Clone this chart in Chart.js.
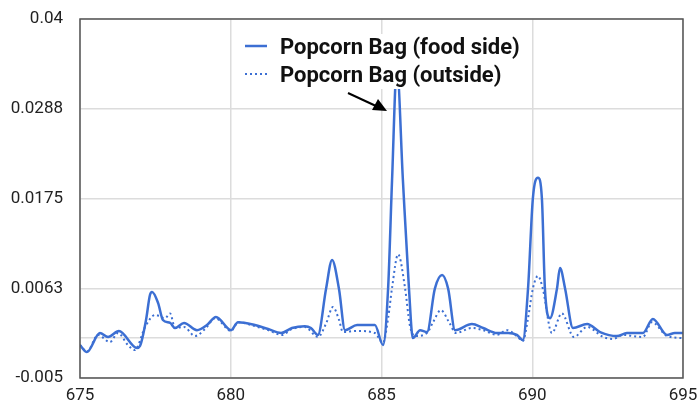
<!DOCTYPE html>
<html>
<head>
<meta charset="utf-8">
<script src="https://cdn.jsdelivr.net/npm/chart.js@4"></script>
<style>
  html, body { margin: 0; padding: 0; background: #fff; }
  #wrap { width: 699px; height: 404px; }
</style>
</head>
<body>
<div id="wrap"><canvas id="spectrum"></canvas></div>
<script>
// Popcorn bag spectra
const seriesNames = ['Popcorn Bag (food side)', 'Popcorn Bag (outside)'];

const foodX = [675.0, 675.23, 675.66, 675.93, 676.29, 676.89, 676.99, 677.19, 677.32, 677.39, 677.59, 677.75,
  677.99, 678.15, 678.45, 678.88, 679.21, 679.51, 680.01, 680.24, 680.80, 681.24, 681.67, 682.03, 682.46,
  682.66, 682.89, 683.16, 683.36, 683.59, 683.79, 684.19, 684.78, 685.05, 685.22, 685.35, 685.51, 685.71,
  685.91, 686.04, 686.28, 686.51, 686.77, 687.01, 687.21, 687.44, 688.0, 688.37, 688.83, 689.20, 689.49,
  689.69, 689.86, 690.02, 690.19, 690.32, 690.42, 690.59, 690.82, 690.92, 691.09, 691.35, 691.82, 692.25,
  692.81, 693.14, 693.67, 694.0, 694.47, 694.73, 695.0];
const foodY = [-0.00087, -0.00174, 0.00064, 0.00014, 0.00089, -0.00124, -0.00099, 0.00227, 0.0054, 0.00578,
  0.0044, 0.00227, 0.0019, 0.00127, 0.0019, 0.001, 0.00164, 0.00265, 0.001, 0.002, 0.00164, 0.00114, 0.00064,
  0.00127, 0.0015, 0.00127, 0.0004, 0.00616, 0.0098, 0.00616, 0.001, 0.00164, 0.00164, -0.00086, 0.00629,
  0.0198, 0.034, 0.0198, 0.00629, 0.0, 0.001, 0.00076, 0.0062, 0.0079, 0.0062, 0.001, 0.00176, 0.00127,
  0.00064, 0.00064, 0.0004, -0.00024, 0.0062, 0.0175, 0.0201, 0.0175, 0.0062, 0.0025, 0.0062, 0.0088,
  0.0062, 0.00127, 0.00176, 0.00076, 0.00026, 0.00064, 0.00064, 0.0024, 0.0004, 0.00064, 0.00064];

const outsideX = [675.0, 675.23, 675.6, 675.99, 676.26, 676.59, 676.82, 677.16, 677.49, 677.82, 677.99, 678.15,
  678.45, 678.81, 679.15, 679.48, 680.01, 680.24, 680.80, 681.24, 681.70, 682.03, 682.46, 682.89, 683.16,
  683.39, 683.59, 683.72, 684.19, 684.78, 685.05, 685.22, 685.35, 685.55, 685.78, 685.94, 686.11, 686.51,
  686.71, 686.97, 687.24, 687.47, 688.0, 688.37, 688.83, 689.16, 689.49, 689.69, 689.86, 690.02, 690.19,
  690.35, 690.65, 690.98, 691.38, 691.82, 692.35, 692.68, 693.01, 693.67, 693.97, 694.47, 695.0];
const outsideY = [-0.00087, -0.0017, 0.0004, -0.0005, 0.00064, -0.00087, -0.0015, 0.0014, 0.0029, 0.0025,
  0.0031, 0.00127, 0.0014, 0.00026, 0.00114, 0.0025, 0.0009, 0.002, 0.0015, 0.001, 0.0004, 0.00114, 0.0014,
  0.00014, 0.0018, 0.0039, 0.0023, 0.00076, 0.0009, 0.00064, -0.0006, 0.0025, 0.0063, 0.0105, 0.0063,
  0.0016, 0.00026, 0.00064, 0.002, 0.0035, 0.002, 0.00064, 0.00127, 0.001, 0.0004, 0.001, 0.00026, -0.00036,
  0.0025, 0.0062, 0.0078, 0.0062, 0.00064, 0.0031, 0.00014, 0.0014, 0.00014, -0.0001, 0.0004, 0.00014,
  0.002, 0.00026, 0.0];

const xTicks = [675, 680, 685, 690, 695];
const yTicks = [-0.005, 0, 0.00625, 0.0175, 0.02875, 0.04];
const yTickLabels = ['-0.005', '', '0.0063', '0.0175', '0.0288', '0.04'];

const blue = '#3c6fd3';

function toPoints(xs, ys) {
  return xs.map((x, i) => ({ x: x, y: ys[i] }));
}

// legend drawn inside the plot, plus the arrow to the big peak
const overlay = {
  id: 'overlay',
  afterDatasetsDraw(chart) {
    const ctx = chart.ctx;
    ctx.save();
    ctx.fillStyle = '#fff';
    ctx.fillRect(232, 34, 300, 55);

    ctx.strokeStyle = blue;
    ctx.lineWidth = 2.5;
    ctx.beginPath();
    ctx.moveTo(245, 46);
    ctx.lineTo(267, 46);
    ctx.stroke();
    ctx.lineWidth = 2;
    ctx.setLineDash([2, 3]);
    ctx.beginPath();
    ctx.moveTo(245, 74);
    ctx.lineTo(267, 74);
    ctx.stroke();
    ctx.setLineDash([]);

    ctx.fillStyle = '#111';
    ctx.font = 'bold 22px Roboto';
    ctx.textBaseline = 'middle';
    ctx.fillText(seriesNames[0], 280, 48);
    ctx.fillText(seriesNames[1], 280, 76);

    // arrow
    ctx.strokeStyle = '#000';
    ctx.fillStyle = '#000';
    ctx.lineWidth = 2;
    ctx.beginPath();
    ctx.moveTo(348, 93);
    ctx.lineTo(376, 106);
    ctx.stroke();
    ctx.beginPath();
    ctx.moveTo(387, 111);
    ctx.lineTo(372, 110);
    ctx.lineTo(378, 99);
    ctx.closePath();
    ctx.fill();
    ctx.restore();
  },
  afterDraw(chart) {
    const a = chart.chartArea;
    const ctx = chart.ctx;
    ctx.save();
    ctx.strokeStyle = '#555';
    ctx.lineWidth = 1.5;
    ctx.strokeRect(a.left, a.top, a.right - a.left, a.bottom - a.top);
    ctx.restore();
  }
};

const ctx = document.getElementById('spectrum').getContext('2d');
const chart = new Chart(ctx, {
  type: 'line',
  data: {
    datasets: [{
      label: seriesNames[0],
      data: toPoints(foodX, foodY),
      borderColor: blue,
      borderWidth: 2.5,
      pointRadius: 0,
      cubicInterpolationMode: 'monotone'
    }, {
      label: seriesNames[1],
      data: toPoints(outsideX, outsideY),
      borderColor: blue,
      borderWidth: 2,
      borderDash: [2, 3],
      pointRadius: 0,
      cubicInterpolationMode: 'monotone'
    }]
  },
  options: {
    responsive: true,
    maintainAspectRatio: false,
    animation: false,
    layout: { padding: { left: 0, top: 19, right: 16, bottom: 0 } },
    plugins: {
      legend: { display: false },
      tooltip: { enabled: false }
    },
    scales: {
      x: {
        type: 'linear',
        min: 675,
        max: 695,
        afterBuildTicks: (scale) => { scale.ticks = xTicks.map(v => ({ value: v })); },
        afterFit: (scale) => { scale.height = 26; },
        grid: { color: '#dcdcdc', lineWidth: 1.5, drawTicks: true, tickLength: 8, tickColor: 'rgba(0,0,0,0)' },
        border: { display: false },
        ticks: {
          padding: 0,
          color: '#222',
          font: { family: 'Roboto', size: 17 },
          maxRotation: 0
        }
      },
      y: {
        min: -0.005,
        max: 0.04,
        afterBuildTicks: (scale) => { scale.ticks = yTicks.map(v => ({ value: v })); },
        afterFit: (scale) => { scale.width = 80; },
        grid: { color: '#dcdcdc', lineWidth: 1.5, drawTicks: true, tickLength: 17, tickColor: 'rgba(0,0,0,0)' },
        border: { display: false },
        ticks: {
          padding: 0,
          color: '#222',
          font: { family: 'Roboto', size: 17 },
          callback: (value, index) => yTickLabels[index]
        }
      }
    }
  },
  plugins: [overlay]
});
</script>
</body>
</html>
